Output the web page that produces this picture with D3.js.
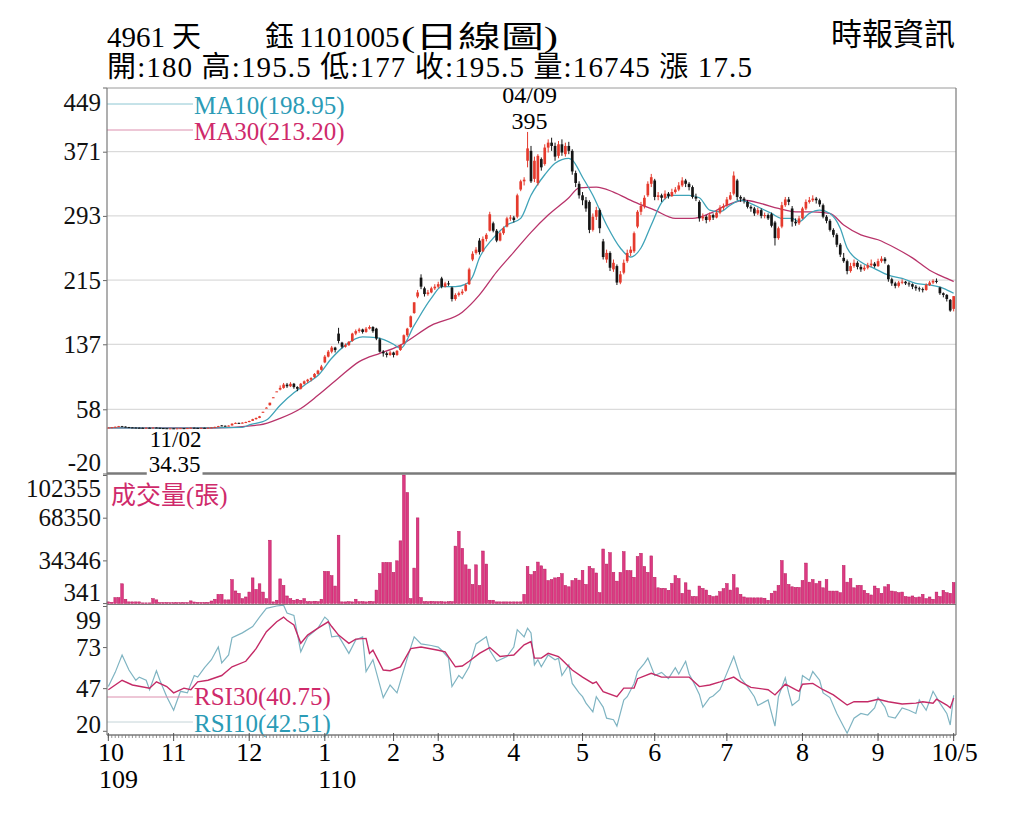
<!DOCTYPE html>
<html>
<head>
<meta charset="utf-8">
<script src="https://cdn.jsdelivr.net/npm/d3@7"></script>
<style>
  body { margin: 0; background: #fff; }
  svg { display: block; }
</style>
</head>
<body>
<svg id="chart"></svg>
<script>
// ---- data ----
const stockCode = '4961', stockName = ['天', '鈺'], chartDate = '1101005', chartType = '(日線圖)'
const source = '時報資訊'

// daily candles [open, high, low, close], 2020/10 .. 2021/10/05
const candles = [
  [35.5,36.0,35.3,35.8],[35.8,36.5,35.6,36.2],[36.2,37.0,36.0,36.8],[36.8,37.8,36.6,37.5],[37.5,37.8,36.8,37.0],[37.0,37.2,36.2,36.4],[36.4,36.6,35.8,36.0],[36.0,36.3,35.6,35.8],[35.8,36.0,35.4,35.6],[35.6,35.9,35.3,35.5],
  [35.5,35.8,35.2,35.4],[35.4,35.9,35.3,35.6],[35.6,35.8,35.1,35.3],[35.3,36.0,35.2,35.8],[35.8,35.9,35.3,35.5],[35.5,35.6,35.0,35.2],[35.2,35.3,34.8,35.0],[35.0,35.1,34.6,34.8],[34.8,35.1,34.6,34.9],[34.9,35.0,34.35,34.6],
  [34.6,35.1,34.5,34.9],[34.9,35.3,34.8,35.1],[35.1,35.2,34.8,35.0],[35.0,35.4,34.9,35.2],[35.2,35.9,35.1,35.6],[35.6,35.7,35.2,35.4],[35.4,35.5,35.1,35.3],[35.3,35.7,35.2,35.5],[35.5,35.6,35.2,35.4],[35.4,35.8,35.3,35.6],
  [35.6,36.3,35.5,36.0],[36.0,36.9,35.9,36.6],[36.6,37.9,36.5,37.5],[38.4,38.8,37.6,38.0],[38.0,38.3,37.3,37.6],[37.6,38.5,37.5,38.2],[38.4,41.0,38.2,40.5],[40.5,42.0,40.2,41.5],[41.5,41.8,40.6,41.0],[41.0,42.2,40.8,41.8],
  [41.8,43.0,41.5,42.5],[42.5,44.2,42.3,43.8],[44.0,46.5,43.8,46.0],[46.0,48.0,45.5,47.5],[47.5,50.0,47.2,49.5],[54.0,55.0,54.0,55.0],[60.0,60.5,59.5,60.0],[63.0,66.0,62.5,66.0],[72.0,72.6,72.0,72.6],[79.8,79.8,79.5,79.8],
  [82,87,81,84],[84,90,83,88],[88,90,84,86],[86,91,85,89],[89,90,83,85],[85,86,80,83],[83,90,82,89],[89,93,88,92],[92,95,90,94],[94,97,92,96],
  [97,102,96,101],[101,106,100,105],[106,112,105,110],[115,124,114,122],[122,130,121,128],[128,135,126,133],[133,134,127,130],[150,157,138,141],[139,140,132,134],[134,138,133,136],
  [136,141,135,140],[141,151,140,150],[150,155,148,153],[153,157,151,155],[155,156,150,152],[152,158,151,156],[156,160,155,158],[158,159,151,153],[156,157,142,144],[143,145,127,128],
  [128,130,122,126],[126,128,121,124],[124,129,123,127],[127,128,121,124],[124,130,123,129],[130,137,129,136],[138,149,137,148],[148,157,146,156],[158,172,157,171],[175,188,174,188],
  [195,203,193,200],[218,222,204,207],[205,207,195,198],[198,203,196,200],[200,207,199,205],[205,210,203,207],[207,213,205,210],[217,219,205,207],[207,213,206,211],[211,214,208,210],
  [206,207,189,192],[192,199,190,197],[197,201,195,199],[199,204,197,201],[202,211,201,209],[210,230,209,228],[240,250,238,247],[248,255,246,252],[263,266,246,249],[250,268,249,265],
  [265,272,262,270],[275,298,274,295],[284,286,273,275],[275,277,261,263],[263,274,262,272],[272,280,270,278],[280,292,279,290],[290,294,287,291],[291,293,285,288],[292,320,290,318],
  [325,337,323,335],[335,340,330,337],[360,395,352,375],[372,378,333,335],[338,365,334,360],[333,368,330,366],[362,364,348,352],[356,380,354,376],[376,386,370,382],[382,388,372,378],
  [378,382,360,365],[366,384,363,380],[380,386,366,370],[368,382,365,378],[378,383,368,372],[372,374,343,347],[345,348,328,333],[332,335,314,318],[318,322,306,312],[312,316,298,302],
  [310,312,272,276],[276,296,274,292],[292,304,288,300],[300,302,272,278],[262,265,240,243],[240,252,236,248],[248,250,226,230],[228,240,225,236],[232,234,209,212],[212,226,210,222],
  [224,240,222,236],[238,252,236,248],[248,256,244,252],[250,274,248,272],[280,300,278,298],[298,310,294,305],[305,318,302,315],[318,335,316,332],[332,344,328,340],[336,338,312,316],
  [316,322,312,318],[318,320,310,315],[315,324,313,320],[320,322,314,317],[317,326,316,322],[322,328,320,325],[325,334,323,330],[330,340,328,336],[336,338,328,332],[332,334,324,328],
  [328,330,314,316],[316,320,311,314],[310,312,286,290],[290,296,287,292],[292,294,284,288],[288,297,286,294],[294,296,288,291],[291,300,290,297],[297,306,295,303],[303,308,300,305],
  [306,316,304,313],[313,322,312,318],[320,347,318,342],[336,338,312,316],[316,318,310,314],[314,316,308,312],[310,312,302,304],[304,306,298,302],[302,304,293,296],[296,303,294,300],
  [300,302,290,293],[293,297,290,294],[294,296,288,290],[295,297,279,281],[285,287,257,266],[266,280,264,278],[280,310,278,306],[306,316,304,313],[313,316,306,310],[302,305,280,286],
  [286,290,281,284],[284,293,282,290],[290,304,289,302],[302,313,300,310],[310,316,308,312],[312,318,310,314],[314,316,308,312],[312,314,304,307],[306,308,290,292],[292,294,284,287],
  [287,289,274,276],[276,278,267,270],[270,272,255,258],[258,260,243,246],[242,248,236,238],[238,240,222,226],[226,236,224,232],[232,240,230,236],[236,238,228,231],[231,234,225,228],
  [228,233,226,230],[230,236,228,233],[233,240,231,235],[235,237,230,232],[232,241,231,238],[238,244,236,241],[241,243,235,238],[233,234,213,216],[216,218,208,211],[211,213,205,208],
  [208,214,206,212],[212,216,210,213],[213,214,209,211],[211,213,207,210],[210,211,204,207],[207,209,202,205],[205,207,201,204],[204,206,200,203],[203,211,202,209],[209,214,208,212],
  [212,216,210,214],[214,217,211,213],[206,207,197,199],[199,200,194,197],[197,198,189,192],[191,192,176.5,178],[180,195.5,177,195.5]
]

// daily volume (張)
const volumes = [
  1300,1000,4700,4700,15700,3400,1300,1300,1300,1300,
  500,500,500,3900,2900,800,800,800,700,600,
  800,600,800,700,2100,1200,900,900,800,900,
  2000,3400,7300,7300,2900,2900,19000,10000,8100,3900,
  5200,9100,20400,11200,15700,9100,3900,50400,1300,2600,
  19600,14400,6000,3900,2600,3400,2600,3900,1500,1500,
  1800,1500,3400,25600,25600,22200,13900,54400,1300,1300,
  1500,1300,3400,1500,1500,1300,1800,1500,10700,23800,
  32700,32700,32700,24800,34000,49900,102355,88400,3900,28200,
  68200,4700,1500,1500,1800,1500,1500,1500,1300,1500,
  1500,45700,57500,43900,30800,27400,15200,30800,14400,41800,
  31400,2600,2600,1300,1300,1300,1300,1300,1300,1300,
  1300,7300,29500,23000,25600,33000,30000,27400,18300,19100,
  20400,20900,23800,14400,13300,18300,19900,18600,26400,15200,
  29500,27700,24300,8600,43400,31400,40500,24800,17800,24800,
  41300,26400,26100,20900,37400,40000,29500,24800,37900,20900,
  12500,12000,12000,10500,16000,22200,19900,8100,16500,10700,
  5500,5500,13900,12000,10700,6500,5500,6000,9400,11800,
  15900,10700,23000,12500,7300,5200,4500,4500,4500,4500,
  4500,4200,2600,8100,9900,14400,34200,23800,15200,13300,
  12800,12800,18300,32200,17000,19100,15900,17800,12500,19100,
  9900,9900,9900,8600,30300,17000,19900,12500,14400,14400,
  10500,8100,6800,13900,12000,8100,13300,15200,9900,9400,
  8600,9100,5500,5200,6000,4700,5200,7300,3900,5200,
  3400,9100,5500,10500,8600,8100,16745
]

// moving averages: [day index, value]
const ma10 = [[0,35.5],[20,35.2],[39,36],[41,39],[46,45],[50,63],[54,78],[58,90],[61,99],[65,120],[69,136],[74,146],[78,145],[83,137],[85,132],[89,160],[94,193],[97,207],[101,207],[104,210],[106,219],[108,242],[112,266],[116,282],[120,290],[123,318],[127,343],[130,357],[134,363],[135,361],[138,340],[141,318],[145,282],[149,254],[152,243],[155,254],[158,282],[161,309],[164,318],[169,318],[172,315],[175,300],[178,298],[181,306],[184,312],[187,308],[190,302],[193,296],[196,290],[199,290],[201,286],[204,296],[207,300],[210,296],[213,278],[215,254],[219,237],[223,229],[227,221],[231,217],[235,211],[239,209],[243,205],[246,198.95]]
const ma30 = [[0,35.5],[30,35.3],[44,39],[50,47],[56,59],[61,75],[67,96],[73,116],[79,126],[83,132],[85,136],[94,160],[103,176],[108,197],[113,225],[118,249],[123,273],[128,294],[134,315],[137,327],[142,328],[147,322],[153,310],[159,300],[165,290],[170,290],[175,296],[180,306],[185,312],[190,308],[195,302],[200,298],[205,298],[210,296],[214,282],[219,270],[224,264],[229,254],[234,242],[239,227],[244,217],[246,213.2]]

// RSI: [day index, value]
const rsi10 = [[0,48],[2,57],[4,68],[6,58.5],[8,52],[9,54],[11,52],[12,46],[14,58],[15,52],[17,41.6],[19,33],[21,45],[23,44],[25,55],[26,54],[28,60],[30,65],[32,73],[33,63],[35,68],[36,79],[39,82],[42,86],[44,92],[46,97.5],[49,99],[51,99.5],[52,94.5],[54,93],[56,70],[58,79.5],[61,85],[63,92],[64,90],[65,79.5],[67,80],[70,69],[72,77.5],[74,79.5],[75,57.5],[77,65],[80,41],[82,49],[84,44],[87,66],[89,79.5],[91,75],[94,74],[96,73],[97,71],[99,66],[100,48],[102,55],[103,53],[105,60.5],[107,75],[110,79.5],[111,71],[113,64],[116,67],[118,73],[119,84],[121,79.5],[122,85],[123,82],[124,61.7],[125,65],[126,60.5],[128,68],[130,65],[131,66],[132,55],[134,61.7],[135,50],[137,44],[138,41.6],[139,37.5],[141,32],[142,41.6],[144,35],[145,28],[147,27],[148,23],[150,39.5],[151,41.6],[153,50],[154,57.5],[156,62.7],[157,66],[159,55],[161,57],[163,53],[165,60],[166,56],[168,64],[169,56],[170,52],[172,43],[173,35],[175,41],[176,42],[178,46],[180,56.5],[182,67],[184,53.5],[186,48],[188,41.6],[189,36],[192,39.5],[194,23],[195,41.6],[197,53.5],[198,44],[199,36],[201,39.5],[202,55],[204,52],[205,57.5],[207,52],[208,44],[210,41],[212,31],[214,22.6],[215,18.5],[217,28],[219,31],[221,30],[223,34.5],[224,41],[226,35],[227,29],[229,28],[231,34.5],[233,33],[235,31],[236,39.5],[238,33],[240,45],[242,37.5],[244,31],[245,23.7],[246,42.51]]
const rsi30 = [[0,46],[4,52],[7,49],[12,47],[14,51],[17,48],[19,44],[22,47],[24,46],[26,51],[29,52],[33,55],[36,60.5],[40,64],[43,72],[46,82.7],[49,89],[51,92],[52,90],[54,87],[56,75.4],[58,80.6],[61,85],[64,89],[65,86],[67,80.6],[70,75.4],[72,78],[75,78.5],[76,69],[77,71],[80,58.5],[82,58],[85,60.5],[88,72],[91,73],[96,71],[98,70],[101,60.5],[103,61],[105,64],[108,69],[111,72.7],[114,67],[118,68],[121,74.4],[123,76.5],[124,66],[126,66],[128,69],[131,67],[132,65],[135,58.5],[138,54],[141,50],[142,51],[144,44.8],[148,41.6],[150,47],[153,47],[154,53],[158,56.4],[161,54],[165,54],[169,54],[170,52],[172,48],[175,49],[178,51],[182,54],[184,51],[187,47.5],[192,46],[194,42.7],[197,49.5],[200,46],[201,45],[202,49.5],[205,50],[208,46],[211,42.7],[215,36.3],[217,38.4],[221,38.4],[224,40],[227,38.4],[231,37],[235,37.5],[237,38.4],[240,37.5],[241,40],[244,36.3],[245,34.5],[246,40.75]]

// axis ticks
const priceTicks = [449, 371, 293, 215, 137, 58, -20]
const volTicks = [102355, 68350, 34346, 341]
const rsiTicks = [99, 73, 47, 20]
const monthLabels = ['10', '11', '12', '1', '2', '3', '4', '5', '6', '7', '8', '9', '10/5']
const monthStartIdx = [0, 19, 41, 63, 83, 96, 118, 138, 159, 180, 202, 224, 246]
const yearLabels = ['109', '110']
const yearAtMonth = [0, 3]
const highDate = '04/09', lowDate = '11/02'

// ---- drawing ----
const W = 1024, H = 819
const serif = '"Liberation Serif","Times New Roman","Noto Sans CJK TC",serif'
const cjk = '"Noto Sans CJK TC","Liberation Serif",sans-serif'
const RED = '#e53a2d', BLACK = '#151515'
const TEAL = '#2b9bb6', CRIMSON = '#cf2a6b'

const svg = d3.select('#chart').attr('width', W).attr('height', H)
  .style('font-family', serif)

const L = 107, R = 956
const x = d3.scaleBand().domain(d3.range(candles.length)).range([L, R - 1]).paddingInner(0.22)
const cx = i => x(i) + x.bandwidth() / 2

const yP = d3.scaleLinear().domain([-20, 449]).range([473.5, 87.5])
const yV = d3.scaleLinear().domain([0, 102355]).range([603.5, 475])
const yR = d3.scaleLinear().domain([20, 99]).range([730.8, 606])

// header
const last = candles[candles.length - 1], prev = candles[candles.length - 2]
svg.append('text').attr('x', 107).attr('y', 47).attr('font-size', 29).text(stockCode)
svg.append('text').attr('x', 172).attr('y', 47).attr('font-size', 29).text(stockName[0])
svg.append('text').attr('x', 265).attr('y', 47).attr('font-size', 29).text(stockName[1])
svg.append('text').attr('x', 299).attr('y', 47).attr('font-size', 29).text(chartDate)
svg.append('text').attr('x', 401).attr('y', 47).attr('font-size', 30)
  .attr('textLength', 157).attr('lengthAdjust', 'spacingAndGlyphs').text(chartType)
svg.append('text').attr('x', 107).attr('y', 77).attr('font-size', 29)
  .attr('textLength', 645).attr('lengthAdjust', 'spacing')
  .text(`開:${last[0]} 高:${last[1]} 低:${last[2]} 收:${last[3]} 量:${volumes[volumes.length - 1]} 漲 ${+(last[3] - prev[3]).toFixed(2)}`)
svg.append('text').attr('x', 955).attr('y', 45).attr('font-size', 31)
  .attr('text-anchor', 'end').attr('font-family', cjk).text(source)

// price grid
svg.append('g').selectAll('line').data(priceTicks.slice(1, -1)).join('line')
  .attr('x1', L).attr('x2', R).attr('y1', d => yP(d)).attr('y2', d => yP(d))
  .attr('stroke', '#d2d2d2').attr('stroke-width', 1)

// left axes
function leftAxis(scale, ticks, shift) {
  const g = svg.append('g').attr('transform', `translate(${L},0)`)
    .call(d3.axisLeft(scale).tickValues(ticks).tickSize(4).tickPadding(2).tickFormat(d => d))
  g.select('.domain').remove()
  g.selectAll('line').attr('stroke', '#666')
  g.selectAll('text').attr('font-size', 25).attr('font-family', serif).attr('fill', '#111')
    .attr('dy', d => (shift[d] || 0) + 8 + 'px')
  return g
}
leftAxis(yP, priceTicks, { 449: 14.5, '-20': -11.5 })
leftAxis(yV, volTicks, { 102355: 13, 341: -11 })
leftAxis(yR, rsiTicks, { 99: 14, 20: -6 })

// moving averages
const lineOf = (ys) => d3.line().x(d => cx(d[0])).y(d => ys(d[1])).curve(d3.curveMonotoneX)
svg.append('path').datum(ma30).attr('d', lineOf(yP)).attr('fill', 'none')
  .attr('stroke', '#b8336a').attr('stroke-width', 1.3)
svg.append('path').datum(ma10).attr('d', lineOf(yP)).attr('fill', 'none')
  .attr('stroke', '#3fa3b8').attr('stroke-width', 1.3)

// candles
const up = d => d[3] >= d[0]
const gC = svg.append('g')
gC.selectAll('line').data(candles).join('line')
  .attr('x1', (d, i) => cx(i)).attr('x2', (d, i) => cx(i))
  .attr('y1', d => yP(d[1])).attr('y2', d => yP(d[2]))
  .attr('stroke', d => up(d) ? RED : BLACK).attr('stroke-width', 1)
gC.selectAll('rect').data(candles).join('rect')
  .attr('x', (d, i) => x(i)).attr('width', x.bandwidth())
  .attr('y', d => yP(Math.max(d[0], d[3])))
  .attr('height', d => Math.max(1, Math.abs(yP(d[0]) - yP(d[3]))))
  .attr('fill', d => up(d) ? RED : BLACK)

// MA legend
svg.append('line').attr('x1', L).attr('x2', 193).attr('y1', 104).attr('y2', 104).attr('stroke', '#8cc6d2')
svg.append('line').attr('x1', L).attr('x2', 193).attr('y1', 130).attr('y2', 130).attr('stroke', '#dc8fae')
svg.append('text').attr('x', 194).attr('y', 114).attr('font-size', 25).attr('fill', TEAL)
  .text(`MA10(${ma10[ma10.length - 1][1].toFixed(2)})`)
svg.append('text').attr('x', 194).attr('y', 140).attr('font-size', 25).attr('fill', CRIMSON)
  .text(`MA30(${ma30[ma30.length - 1][1].toFixed(2)})`)

// high / low notes
const hi = d3.maxIndex(candles, d => d[1]), lo = d3.minIndex(candles, d => d[2])
svg.append('text').attr('x', cx(hi) + 2).attr('y', yP(candles[hi][1]) - 29).attr('font-size', 24)
  .attr('text-anchor', 'middle').text(highDate)
svg.append('text').attr('x', cx(hi) + 2).attr('y', yP(candles[hi][1]) - 3).attr('font-size', 24)
  .attr('text-anchor', 'middle').text(candles[hi][1])
svg.append('text').attr('x', cx(lo) + 2).attr('y', yP(candles[lo][2]) + 18.5).attr('font-size', 23)
  .attr('text-anchor', 'middle').text(lowDate)

// volume bars
svg.append('g').selectAll('rect').data(volumes).join('rect')
  .attr('x', (d, i) => x(i)).attr('width', x.bandwidth())
  .attr('y', d => yV(d)).attr('height', d => yV(0) - yV(d))
  .attr('fill', '#dc3a83').attr('stroke', '#b81a5c').attr('stroke-width', 0.5)
svg.append('text').attr('x', 111).attr('y', 504).attr('font-size', 25)
  .attr('fill', CRIMSON).text('成交量(張)')

// RSI lines
svg.append('path').datum(rsi10).attr('d', d3.line().x(d => cx(d[0])).y(d => yR(d[1])))
  .attr('fill', 'none').attr('stroke', '#7fb4c2').attr('stroke-width', 1.2)
svg.append('path').datum(rsi30).attr('d', d3.line().x(d => cx(d[0])).y(d => yR(d[1])))
  .attr('fill', 'none').attr('stroke', '#c42a66').attr('stroke-width', 1.4)

// RSI legend
svg.append('line').attr('x1', L).attr('x2', 193).attr('y1', 697).attr('y2', 697).attr('stroke', '#dc8fae')
svg.append('line').attr('x1', L).attr('x2', 193).attr('y1', 722).attr('y2', 722).attr('stroke', '#c4d4d8')
svg.append('text').attr('x', 194).attr('y', 705).attr('font-size', 25).attr('fill', CRIMSON)
  .text(`RSI30(${rsi30[rsi30.length - 1][1].toFixed(2)})`)
svg.append('text').attr('x', 194).attr('y', 732).attr('font-size', 25).attr('fill', TEAL)
  .text(`RSI10(${rsi10[rsi10.length - 1][1].toFixed(2)})`)

// frames
const frame = svg.append('g').attr('stroke', '#7a7a7a').attr('fill', 'none')
frame.append('line').attr('x1', L).attr('x2', R).attr('y1', 88).attr('y2', 88).attr('stroke', '#9a9a9a')
frame.append('line').attr('x1', L).attr('x2', R).attr('y1', 473.5).attr('y2', 473.5).attr('stroke-width', 2.5)
frame.append('line').attr('x1', L).attr('x2', R).attr('y1', 604.5).attr('y2', 604.5).attr('stroke-width', 1.2)
frame.append('line').attr('x1', L).attr('x2', R).attr('y1', 735).attr('y2', 735).attr('stroke-width', 1.5)
frame.append('line').attr('x1', L).attr('x2', L).attr('y1', 88).attr('y2', 735).attr('stroke-width', 1.2)
frame.append('line').attr('x1', R).attr('x2', R).attr('y1', 88).attr('y2', 735).attr('stroke-width', 1.2)

// low value label sits on the panel border with a white box
const loText = svg.append('text').attr('x', cx(lo) + 1).attr('y', yP(candles[lo][2]) + 43.5)
  .attr('font-size', 23).attr('text-anchor', 'middle').text(candles[lo][2])
const bb = loText.node().getBBox()
svg.insert('rect', () => loText.node()).attr('x', bb.x - 2).attr('y', bb.y + 4)
  .attr('width', bb.width + 4).attr('height', bb.height - 6).attr('fill', '#fff')

// x axis: daily ticks, month ticks and labels
const gx = svg.append('g')
gx.selectAll('line.d').data(d3.range(candles.length)).join('line').attr('class', 'd')
  .attr('x1', i => cx(i)).attr('x2', i => cx(i)).attr('y1', 735).attr('y2', 738)
  .attr('stroke', '#777').attr('stroke-width', 0.8)
gx.selectAll('line.m').data(monthStartIdx).join('line').attr('class', 'm')
  .attr('x1', i => cx(i)).attr('x2', i => cx(i)).attr('y1', 733).attr('y2', 741)
  .attr('stroke', '#555').attr('stroke-width', 1)
const mText = gx.selectAll('text.m').data(monthLabels).join('text').attr('class', 'm')
  .attr('x', (d, k) => cx(monthStartIdx[k]) + (k === monthLabels.length - 1 ? 1 : 0))
  .attr('y', 761).attr('font-size', 26).attr('text-anchor', 'middle').text(d => d)
mText.filter((d, k) => k === 0).attr('x', 111)
yearLabels.forEach((t, k) => {
  const b = mText.nodes()[yearAtMonth[k]].getBBox()
  gx.append('text').attr('x', Math.max(b.x, 99)).attr('y', 788).attr('font-size', 26).text(t)
})
</script>
</body>
</html>
